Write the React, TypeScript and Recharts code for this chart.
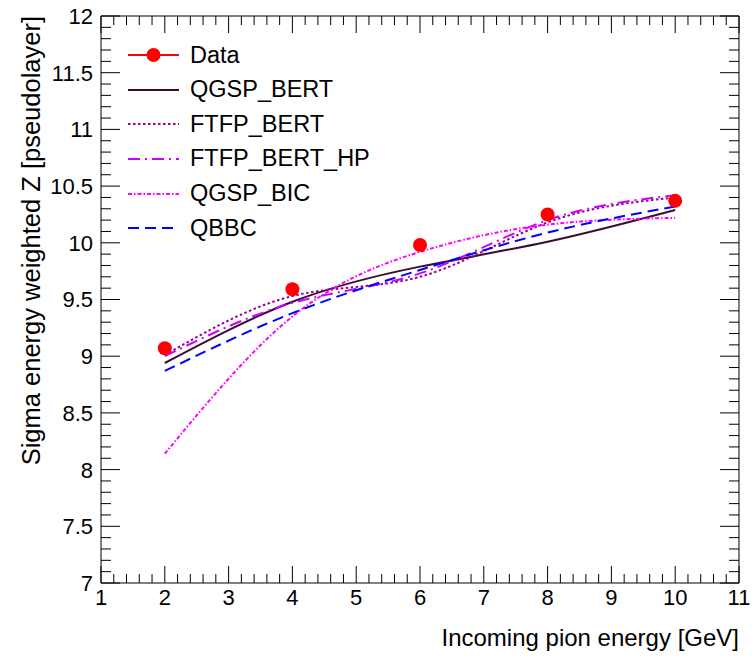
import { ComposedChart, Line, XAxis, YAxis, Legend, Label, ReferenceLine } from "recharts";

// ROOT-style canvas, drawn straight onto page coordinates
document.body.style.margin = "0";

const FONT = "'Liberation Sans', Arial, Helvetica, sans-serif";

const energies = [2, 4, 6, 8, 10];
const dataValues = [9.07, 9.59, 9.98, 10.25, 10.37];
const qgspBert = [8.94, 9.48, 9.79, 10.01, 10.29];
const ftfpBert = [9.01, 9.53, 9.7, 10.18, 10.4];
const ftfpBertHp = [9.0, 9.47, 9.73, 10.2, 10.42];
const qgspBic = [8.14, 9.35, 9.92, 10.16, 10.22];
const qbbc = [8.87, 9.38, 9.76, 10.09, 10.32];

const xTicks = [1, 2, 3, 4, 5, 6, 7, 8, 9, 10, 11];
const yTicks = [7, 7.5, 8, 8.5, 9, 9.5, 10, 10.5, 11, 11.5, 12];

const xTitle = "Incoming pion energy [GeV]";
const yTitle = "Sigma energy weighted Z [pseudolayer]";

const X_MIN = 1, X_MAX = 11, Y_MIN = 7, Y_MAX = 12;
const PLOT_W = 638, PLOT_H = 567;

// minor ticks: 5 divisions between majors
const minorTicks = (majors: number[]) => {
    const out: number[] = [];
    for (let i = 0; i < majors.length - 1; i++) {
        const step = (majors[i + 1] - majors[i]) / 5;
        for (let k = 0; k < 5; k++) out.push(+(majors[i] + k * step).toFixed(3));
    }
    out.push(majors[majors.length - 1]);
    return out;
};
const xAll = minorTicks(xTicks);
const yAll = minorTicks(yTicks);

const isMajor = (v: number, majors: number[]) => majors.some((m) => Math.abs(m - v) < 1e-6);

const series = [
    { key: "qgspBert", name: "QGSP_BERT", color: "#3d0c35", dash: undefined },
    { key: "ftfpBert", name: "FTFP_BERT", color: "#99009a", dash: "2.5 2.5" },
    { key: "ftfpBertHp", name: "FTFP_BERT_HP", color: "#cc00ff", dash: "12 5 2 5" },
    { key: "qgspBic", name: "QGSP_BIC", color: "#ff00ff", dash: "4 2 1.5 2" },
    { key: "qbbc", name: "QBBC", color: "#0000ff", dash: "11 6" },
];

const rows = energies.map((e, i) => ({
    energy: e,
    data: dataValues[i],
    qgspBert: qgspBert[i],
    ftfpBert: ftfpBert[i],
    ftfpBertHp: ftfpBertHp[i],
    qgspBic: qgspBic[i],
    qbbc: qbbc[i],
}));

const X_MAJOR = 17;
const X_MINOR = 9;
const Y_MAJOR = 19;
const Y_MINOR = 10;

// tick lengths in pixels -> data units
const pxX = (px: number) => (px * (X_MAX - X_MIN)) / PLOT_W;
const pxY = (px: number) => (px * (Y_MAX - Y_MIN)) / PLOT_H;

type Seg = { id: string; seg: [{ x: number; y: number }, { x: number; y: number }] };
const frameTicks: Seg[] = [];
yAll.forEach((v) => {
    const len = pxX(isMajor(v, yTicks) ? Y_MAJOR : Y_MINOR);
    frameTicks.push({ id: `l${v}`, seg: [{ x: X_MIN, y: v }, { x: X_MIN + len, y: v }] });
    frameTicks.push({ id: `r${v}`, seg: [{ x: X_MAX, y: v }, { x: X_MAX - len, y: v }] });
});
xAll.forEach((v) => {
    const len = pxY(isMajor(v, xTicks) ? X_MAJOR : X_MINOR);
    frameTicks.push({ id: `t${v}`, seg: [{ x: v, y: Y_MAX }, { x: v, y: Y_MAX - len }] });
});

function BottomTick(props: any) {
    const { x, y, payload } = props;
    const major = isMajor(payload.value, xTicks);
    return (
        <g>
            <line x1={x} x2={x} y1={y} y2={y - (major ? X_MAJOR : X_MINOR)} stroke="#000" strokeWidth={1} />
            {major && (
                <text x={x} y={y + 6} dy="0.71em" textAnchor="middle" fontSize={22} fontFamily={FONT} fill="#000">
                    {payload.value}
                </text>
            )}
        </g>
    );
}

function LeftLabel(props: any) {
    const { x, y, payload } = props;
    if (!isMajor(payload.value, yTicks)) return <g />;
    return (
        <text x={x - 8} y={y} dy="0.36em" textAnchor="end" fontSize={22} fontFamily={FONT} fill="#000">
            {payload.value}
        </text>
    );
}

function XTitle(props: any) {
    const vb = props.viewBox || { x: 101, y: 583, width: 638 };
    return (
        <text x={vb.x + vb.width} y={vb.y + 63} textAnchor="end" fontSize={24} fontFamily={FONT} fill="#000">
            {xTitle}
        </text>
    );
}

function YTitle(props: any) {
    const vb = props.viewBox || { y: 16 };
    const x = 40;
    const y = vb.y;
    return (
        <text x={x} y={y} transform={`rotate(-90, ${x}, ${y})`} textAnchor="end" fontSize={25.5} fontFamily={FONT} fill="#000">
            {yTitle}
        </text>
    );
}

function Sample({ color, dash }: { color: string; dash?: string }) {
    return (
        <svg width={51} height={20} style={{ display: "block" }}>
            <line x1={0} x2={51} y1={10} y2={10} stroke={color} strokeWidth={2} strokeDasharray={dash} />
        </svg>
    );
}

function LegendBox() {
    const row = { display: "flex", alignItems: "center", height: 34.6 } as const;
    const label = { marginLeft: 11, fontSize: 23.5, fontFamily: FONT, color: "#000", lineHeight: 1 } as const;
    return (
        <div>
            <div style={row}>
                <svg width={51} height={20} style={{ display: "block" }}>
                    <line x1={0} x2={51} y1={10} y2={10} stroke="#ff0000" strokeWidth={2} />
                    <circle cx={25.5} cy={10} r={7} fill="#ff0000" />
                </svg>
                <span style={label}>Data</span>
            </div>
            {series.map((s) => (
                <div key={s.key} style={row}>
                    <Sample color={s.color} dash={s.dash} />
                    <span style={label}>{s.name}</span>
                </div>
            ))}
        </div>
    );
}

export default function App() {
    return (
        <div style={{ width: 755, height: 658, overflow: "hidden", background: "#fff", fontFamily: FONT }}>
            <ComposedChart width={755} height={658} data={rows} margin={{ top: 16, right: 16, left: 0, bottom: 45 }}>
                <XAxis
                    xAxisId="x"
                    dataKey="energy"
                    type="number"
                    domain={[X_MIN, X_MAX]}
                    allowDataOverflow
                    ticks={xAll}
                    interval={0}
                    height={30}
                    tickSize={0}
                    tickMargin={0}
                    tickLine={false}
                    axisLine={{ stroke: "#000" }}
                    tick={<BottomTick />}
                >
                    <Label content={<XTitle />} />
                </XAxis>
                <YAxis
                    yAxisId="y"
                    type="number"
                    domain={[Y_MIN, Y_MAX]}
                    allowDataOverflow
                    ticks={yAll}
                    interval={0}
                    width={101}
                    tickSize={0}
                    tickMargin={0}
                    tickLine={false}
                    axisLine={{ stroke: "#000" }}
                    tick={<LeftLabel />}
                >
                    <Label content={<YTitle />} />
                </YAxis>
                {/* frame: top and right edges plus inward ticks on left/right/top */}
                <ReferenceLine xAxisId="x" yAxisId="y" y={Y_MAX} stroke="#000" strokeWidth={1} ifOverflow="visible" />
                <ReferenceLine xAxisId="x" yAxisId="y" x={X_MAX} stroke="#000" strokeWidth={1} ifOverflow="visible" />
                {frameTicks.map((t) => (
                    <ReferenceLine
                        key={t.id}
                        xAxisId="x"
                        yAxisId="y"
                        segment={t.seg}
                        stroke="#000"
                        strokeWidth={1}
                        ifOverflow="visible"
                    />
                ))}
                <Legend
                    layout="vertical"
                    align="center"
                    verticalAlign="middle"
                    content={() => <LegendBox />}
                    wrapperStyle={{ left: 128, top: 38, width: "auto", height: "auto" }}
                />
                <Line
                    xAxisId="x"
                    yAxisId="y"
                    dataKey="data"
                    name="Data"
                    stroke="none"
                    dot={{ r: 7, fill: "#ff0000", stroke: "none" }}
                    activeDot={false}
                    isAnimationActive={false}
                />
                {series.map((s) => (
                    <Line
                        key={s.key}
                        xAxisId="x"
                        yAxisId="y"
                        type="natural"
                        dataKey={s.key}
                        name={s.name}
                        stroke={s.color}
                        strokeWidth={2}
                        strokeDasharray={s.dash}
                        dot={false}
                        activeDot={false}
                        isAnimationActive={false}
                    />
                ))}
            </ComposedChart>
        </div>
    );
}
